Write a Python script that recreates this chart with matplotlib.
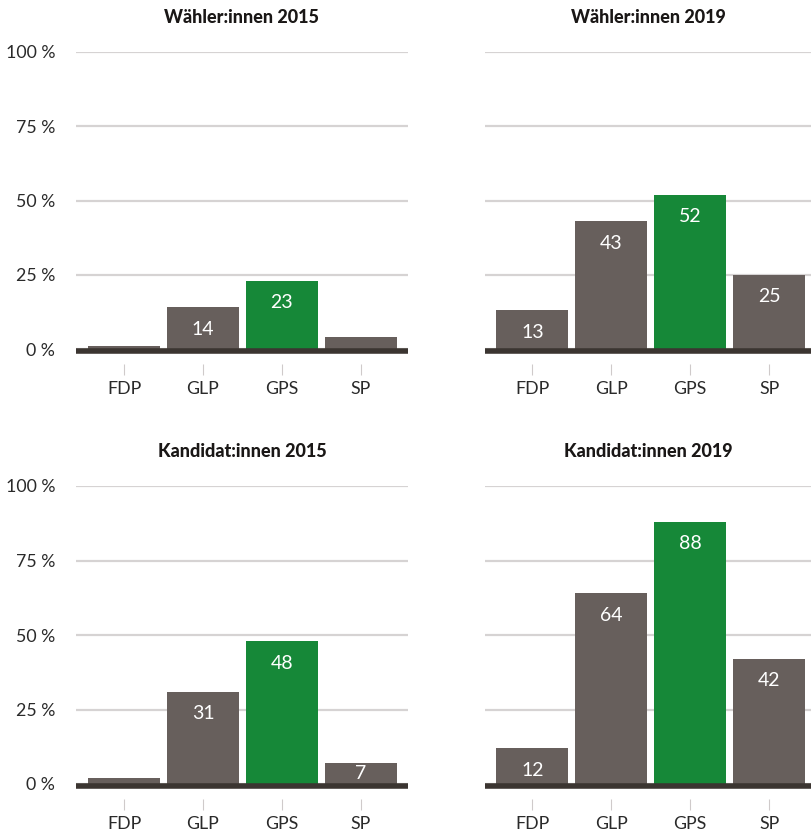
import matplotlib.pyplot as plt
from matplotlib.transforms import offset_copy

# Daten
parteien = ["FDP", "GLP", "GPS", "SP"]
titel = ["Wähler:innen 2015", "Wähler:innen 2019",
         "Kandidat:innen 2015", "Kandidat:innen 2019"]
waehler_2015 = [1, 14, 23, 4]
waehler_2019 = [13, 43, 52, 25]
kandidaten_2015 = [2, 31, 48, 7]
kandidaten_2019 = [12, 64, 88, 42]
werte = [waehler_2015, waehler_2019, kandidaten_2015, kandidaten_2019]
y_ticks = [0, 25, 50, 75, 100]
y_labels = ["0 %", "25 %", "50 %", "75 %", "100 %"]

# Farben
GRAU = "#675f5c"
GRUEN = "#168838"
BASIS = "#3b3531"
RASTER = "#d6d3d3"
TEXT = "#2a2a2a"

plt.rcParams["font.family"] = ["Lato", "DejaVu Sans"]

fig = plt.figure(figsize=(8.11, 8.32), dpi=100)
W, H = 811, 832

# Achsenpositionen in Pixeln (links, oben, rechts, unten)
boxen = [(76, 52, 408, 349), (485, 52, 811, 349),
         (76, 486, 408, 784), (485, 486, 811, 784)]
xlims = [(-0.61, 3.6), (-0.6, 3.53), (-0.61, 3.6), (-0.6, 3.53)]

for i, (box, vals, t) in enumerate(zip(boxen, werte, titel)):
    l, o, r, u = box
    ax = fig.add_axes([l / W, (H - u) / H, (r - l) / W, (u - o) / H])
    farben = [GRUEN if p == "GPS" else GRAU for p in parteien]
    x = range(len(parteien))
    bars = ax.bar(x, vals, width=0.91, color=farben, zorder=2)

    ax.set_ylim(0, 100)
    ax.set_xlim(*xlims[i])
    ax.set_yticks(y_ticks)
    ax.yaxis.grid(True, color=RASTER, linewidth=1.6, zorder=0)
    ax.set_axisbelow(True)
    for s in ax.spines.values():
        s.set_visible(False)
    ax.spines["bottom"].set_position(("outward", 10.8))

    # Grundlinie
    basis_trans = offset_copy(ax.transAxes, fig=fig, y=-1.5, units="dots")
    ax.plot([0, 1], [0, 0], transform=basis_trans, color=BASIS,
            linewidth=4, solid_capstyle="butt", clip_on=False, zorder=3)

    ax.set_xticks(list(x))
    ax.set_xticklabels(parteien, fontsize=12.8, color=TEXT)
    ax.tick_params(axis="x", length=8, width=0.8, color="#cfcaca", pad=4)
    if i % 2 == 0:
        ax.set_yticklabels(y_labels, fontsize=12.8, color=TEXT)
        ax.tick_params(axis="y", length=0, pad=15)
    else:
        ax.tick_params(axis="y", length=0, labelleft=False)

    ax.set_title(t, fontsize=13, fontweight="black", color="#1a1716", pad=21)

    for b, v in zip(bars, vals):
        if v >= 5:
            # kurze Balken: Zahl unten im Balken
            y_text = v - 7.4 if v >= 10 else v - 3.4
            ax.text(b.get_x() + b.get_width() / 2, y_text, str(v),
                    ha="center", va="center", color="white",
                    fontsize=14, zorder=4)

fig.savefig("out.png", dpi=100)
